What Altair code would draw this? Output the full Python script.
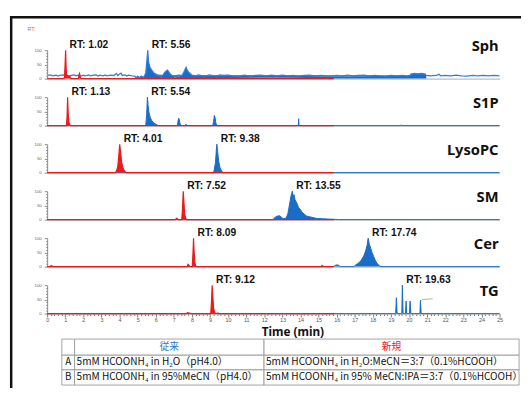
import altair as alt
import pandas as pd

# ---------------- data ----------------
COMPOUNDS = ["Sph", "S1P", "LysoPC", "SM", "Cer", "TG"]
RT_RED = [1.02, 1.13, 4.01, 7.52, 8.09, 9.12]
RT_BLUE = [5.56, 5.54, 9.38, 13.55, 17.74, 19.63]

# (time [min], relative intensity [%])
SPH_RED = [(0, 0), (0.93, 0), (0.96, 8), (0.99, 50), (1.02, 100), (1.05, 35), (1.08, 10), (1.2, 8),
           (1.28, 6), (1.31, 0), (1.72, 0), (1.76, 12), (1.79, 18), (1.83, 6), (1.87, 0), (15.85, 0)]
SPH_BLUE = [(0.05, 11), (0.2, 13), (0.3, 10), (0.5, 12), (0.6, 9), (0.7, 11), (0.9, 13), (1.1, 12),
            (1.2, 9), (1.3, 11), (1.5, 13), (1.6, 10), (1.7, 12), (1.9, 9), (2.0, 12), (2.1, 10),
            (2.3, 13), (2.4, 10), (2.5, 11), (2.7, 13), (2.8, 9), (2.9, 12), (3.1, 10), (3.2, 13),
            (3.3, 10), (3.5, 12), (3.7, 11), (3.82, 18), (3.9, 11), (4.0, 16), (4.08, 19), (4.15, 11),
            (4.3, 13), (4.4, 9), (4.5, 12), (4.7, 10), (4.85, 9), (4.9, 3), (5.0, 8), (5.1, 4), (5.2, 9),
            (5.3, 5), (5.38, 10), (5.45, 20), (5.52, 70), (5.56, 100), (5.6, 60), (5.65, 45), (5.72, 35),
            (5.8, 28), (5.9, 20), (6.0, 16), (6.1, 13), (6.25, 11), (6.4, 12), (6.5, 22), (6.58, 27),
            (6.65, 30), (6.72, 24), (6.8, 16), (6.9, 11), (7.05, 10), (7.25, 12), (7.45, 11), (7.55, 22),
            (7.62, 32), (7.68, 40), (7.74, 30), (7.8, 24), (7.9, 18), (8.0, 12), (8.2, 10), (8.35, 13),
            (8.5, 11), (8.8, 10), (8.95, 13), (9.1, 11), (9.4, 10), (9.55, 13), (9.7, 11), (10.0, 12),
            (10.3, 10), (10.6, 9), (10.9, 12), (11.2, 9), (11.5, 11), (11.8, 12), (12.1, 10), (12.4, 12),
            (12.7, 10), (13.0, 12), (13.3, 10), (13.6, 11), (13.9, 9), (14.2, 11), (14.5, 12), (14.8, 10),
            (15.1, 11), (15.4, 10), (15.7, 9), (16.0, 11), (16.3, 10), (16.6, 12), (16.9, 10), (17.2, 11),
            (17.5, 12), (17.8, 10), (18.1, 11), (18.4, 10), (18.7, 9), (19.0, 11), (19.3, 10), (19.6, 11),
            (19.9, 10), (20.05, 11), (20.1, 16), (20.3, 18), (20.5, 17), (20.7, 18), (20.9, 16),
            (20.95, 11), (21.2, 10), (21.5, 11), (21.65, 15), (21.75, 10), (22.0, 11), (22.3, 10),
            (22.6, 12), (22.9, 10), (23.2, 9), (23.5, 11), (23.8, 10), (24.1, 11), (24.4, 10), (24.7, 11),
            (25.0, 10)]
SPH_BLUE_PEAKS = [(4.85, 5.35), (5.38, 6.25), (6.4, 6.9), (7.45, 8.0), (20.05, 20.95)]

S1P_RED = [(0, 0), (1.06, 0), (1.1, 30), (1.13, 100), (1.16, 45), (1.2, 12), (1.25, 3), (1.3, 0), (15.85, 0)]
S1P_BLUE = [(0, 0), (5.45, 0), (5.5, 40), (5.54, 100), (5.58, 70), (5.63, 45), (5.7, 28), (5.78, 18),
            (5.88, 10), (6.0, 5), (6.15, 0), (7.2, 0), (7.24, 20), (7.27, 26), (7.3, 22), (7.34, 8),
            (7.38, 0), (7.64, 0), (7.67, 5), (7.7, 0), (9.15, 0), (9.2, 15), (9.24, 36), (9.28, 28),
            (9.33, 8), (9.4, 0), (13.88, 0), (13.9, 24), (13.92, 0), (19.55, 0), (19.57, 3), (19.6, 0), (25, 0)]

LPC_RED = [(0, 0), (3.75, 0), (3.82, 4), (3.9, 20), (3.96, 60), (4.01, 100), (4.06, 70), (4.12, 35),
           (4.2, 14), (4.28, 5), (4.36, 0), (15.85, 0)]
LPC_BLUE = [(0, 0), (9.15, 0), (9.22, 5), (9.3, 35), (9.35, 80), (9.38, 100), (9.42, 75), (9.48, 40),
            (9.55, 18), (9.63, 7), (9.72, 0), (25, 0)]

SM_RED = [(0, 0), (7.1, 0), (7.14, 5), (7.2, 3), (7.25, 0), (7.44, 0), (7.48, 40), (7.52, 100),
          (7.56, 60), (7.6, 20), (7.65, 5), (7.7, 0), (15.85, 0)]
SM_BLUE = [(0, 0), (12.5, 0), (12.55, 6), (12.7, 12), (12.85, 14), (12.95, 8), (13.05, 3), (13.2, 5),
           (13.3, 20), (13.4, 55), (13.48, 85), (13.55, 100), (13.6, 80), (13.64, 88), (13.7, 70),
           (13.8, 58), (13.9, 42), (14.0, 35), (14.1, 25), (14.2, 20), (14.35, 12), (14.5, 10), (14.7, 7),
           (14.9, 4), (15.2, 3), (15.5, 2), (15.9, 1), (16.1, 0), (25, 0)]

CER_RED = [(0, 0), (7.74, 0), (7.78, 8), (7.84, 4), (7.9, 0), (8.02, 0), (8.06, 50), (8.09, 100),
           (8.12, 55), (8.16, 15), (8.22, 0), (15.85, 0)]
CER_BLUE = [(0, 0), (0.15, 0), (0.22, 5), (0.3, 2), (0.38, 0), (15.1, 0), (15.2, 5), (15.3, 0),
            (15.85, 0), (15.9, 4), (16.0, 6), (16.1, 5), (16.2, 0), (16.95, 0), (17.05, 6), (17.2, 12),
            (17.35, 22), (17.5, 38), (17.6, 55), (17.68, 75), (17.74, 100), (17.8, 80), (17.88, 65),
            (17.95, 50), (18.05, 35), (18.15, 20), (18.25, 10), (18.35, 4), (18.45, 0), (25, 0)]

TG_RED = [(0, 0), (7.7, 0), (7.75, 3), (7.85, 2), (7.95, 0), (9.04, 0), (9.08, 40), (9.12, 100),
          (9.16, 55), (9.2, 18), (9.25, 5), (9.3, 0), (9.45, 2), (9.5, 0), (15.85, 0)]
TG_BLUE = [(0, 0), (19.26, 0), (19.3, 56), (19.34, 0), (19.6, 0), (19.63, 100), (19.67, 0), (19.8, 0),
           (19.84, 44), (19.87, 0), (20.02, 0), (20.06, 44), (20.1, 0), (20.6, 0), (20.63, 47),
           (20.67, 0), (25, 0)]
TG_GREEN = [(20.68, 47), (20.75, 50), (21.3, 52)]

RED_TRACES = [SPH_RED, S1P_RED, LPC_RED, SM_RED, CER_RED, TG_RED]
BLUE_TRACES = [SPH_BLUE, S1P_BLUE, LPC_BLUE, SM_BLUE, CER_BLUE, TG_BLUE]

TABLE_KEYS = ["", "A", "B"]
TABLE_OLD = ["従来", "5mM HCOONH₄ in H₂O（pH4.0）", "5mM HCOONH₄ in 95%MeCN（pH4.0）"]
TABLE_NEW = ["新規", "5mM HCOONH₄ in H₂O:MeCN＝3:7（0.1%HCOOH）",
             "5mM HCOONH₄ in 95% MeCN:IPA＝3:7（0.1%HCOOH）"]

# ---------------- style / layout ----------------
RED = "#ee1a1a"
BLUE = "#1a6cc6"
BLUE_NOISE = "#2f80d8"
GREEN = "#8cc98c"
W, H = 462, 29
FULL = [(0, 25)]

xs = alt.Scale(domain=[0, 25], nice=False, zero=False)
ys = alt.Scale(domain=[0, 100], nice=False)

TIME_TICKS = [round(0.2 * k, 1) for k in range(126)]


def trace_df(points, windows):
    rows = []
    for t, v in points:
        seg = 0
        for k, (a, b) in enumerate(windows):
            if a <= t <= b:
                seg = k + 1
                break
        rows.append({"t": t, "v": v, "seg": seg})
    return pd.DataFrame(rows)


y_axis = alt.Axis(
    values=list(range(0, 101, 10)),
    labelExpr="datum.value % 50 == 0 ? datum.label : ''",
    tickSize={"condition": {"test": "datum.value % 50 == 0", "value": 3}, "value": 1.5},
    labelFontSize=4.5, labelColor="#666", labelFont="Liberation Sans", labelPadding=3,
    labelOverlap=False, domainColor="#888", tickColor="#888", title=None, grid=False,
)

x_axis_plain = alt.Axis(labels=False, ticks=False, domain=True, domainColor="#aaa",
                        title=None, grid=False)
x_axis_bottom = alt.Axis(
    values=TIME_TICKS,
    labelExpr="abs(datum.value - round(datum.value)) < 0.01 ? '' + round(datum.value) : ''",
    tickSize={"condition": {"test": "abs(datum.value - round(datum.value)) < 0.01", "value": 3.5},
              "value": 2},
    tickColor="#777", domainColor="#aaa", labelFontSize=5.5, labelColor="#555",
    labelFont="Liberation Sans", labelPadding=0.5, labelOverlap=False, labelFlush=False,
    title="Time (min)", titleFont="Noto Sans", titleFontSize=12, titleFontWeight="bold",
    titleColor="#111", titleX=250.5, titleY=18, titleBaseline="middle", titleAlign="center",
    grid=False,
)

one = pd.DataFrame({"a": [0]})


def make_panel(i):
    last = i == len(COMPOUNDS) - 1
    xax = x_axis_bottom if last else x_axis_plain

    def X(f):
        return alt.X(f, scale=xs, axis=xax)

    def Y(f):
        return alt.Y(f, scale=ys, axis=y_axis)

    red = trace_df(RED_TRACES[i], FULL)
    blue = trace_df(BLUE_TRACES[i], SPH_BLUE_PEAKS if i == 0 else FULL)

    layers = [
        alt.Chart(blue).transform_filter("datum.seg > 0").mark_area(color=BLUE, opacity=1)
        .encode(x=X("t:Q"), y=Y("v:Q"), detail="seg:N"),
        alt.Chart(blue).mark_line(color=BLUE_NOISE if i == 0 else BLUE,
                                  strokeWidth=1.3 if i == 0 else 1)
        .encode(x=X("t:Q"), y=Y("v:Q")),
        alt.Chart(red).transform_filter("datum.seg > 0").mark_area(color=RED, opacity=1)
        .encode(x=X("t:Q"), y=Y("v:Q"), detail="seg:N"),
        alt.Chart(red).mark_line(color=RED, strokeWidth=1.2).encode(x=X("t:Q"), y=Y("v:Q")),
    ]
    if last:
        g = pd.DataFrame(TG_GREEN, columns=["t", "v"])
        layers.append(alt.Chart(g).mark_line(color=GREEN, strokeWidth=1)
                      .encode(x=X("t:Q"), y=Y("v:Q")))

    lab = pd.DataFrame({"rt": [RT_RED[i], RT_BLUE[i]]})
    lab["label"] = ["RT: %.2f" % v for v in lab["rt"]]
    layers.append(
        alt.Chart(lab).mark_text(align="left", baseline="middle", dx=4, dy=-5,
                                 font="Liberation Sans", fontWeight="bold", fontSize=10.5,
                                 color="#111")
        .encode(x=X("rt:Q"), y=alt.YDatum(100, scale=ys, axis=y_axis), text="label:N")
    )
    name = pd.DataFrame({"name": [COMPOUNDS[i]]})
    layers.append(
        alt.Chart(name).mark_text(align="right", baseline="middle", font="Noto Sans",
                                  fontWeight="bold", fontSize=15, color="#111",
                                  dy=-4.5 if i == 0 else 6)
        .encode(x=alt.value(W - 1), y=alt.value(0), text="name:N")
    )
    if i == 0:
        layers.append(alt.Chart(one).mark_rule(color="#111", strokeWidth=2.5)
                      .encode(x=alt.value(-36.75), y=alt.value(-35), y2=alt.value(345)))
        layers.append(alt.Chart(one).mark_rule(color="#111", strokeWidth=2.5)
                      .encode(x=alt.value(-38), x2=alt.value(484), y=alt.value(-33.75)))
        layers.append(alt.Chart(pd.DataFrame({"s": ["RT:"]}))
                      .mark_text(align="left", baseline="middle", font="Liberation Sans",
                                 fontSize=5.5, color="#888")
                      .encode(x=alt.value(-20), y=alt.value(-21.5), text="s:N"))
    return alt.layer(*layers).properties(width=W, height=H)


# ---------------- table ----------------
COL_EDGES = [15, 28, 221.5, 482]
ROW_EDGES = [7, 23.5, 38.5, 54]
TW, TH = 484, 55

cells = []
texts_c = []
texts_l = []
for r in range(3):
    row_vals = [TABLE_KEYS[r], TABLE_OLD[r], TABLE_NEW[r]]
    for c in range(3):
        cells.append({"x": COL_EDGES[c], "x2": COL_EDGES[c + 1],
                      "y": ROW_EDGES[r], "y2": ROW_EDGES[r + 1]})
        ym = (ROW_EDGES[r] + ROW_EDGES[r + 1]) / 2
        txt = row_vals[c]
        if not txt:
            continue
        if c == 0 or r == 0:
            col = "#111"
            if r == 0 and c == 1:
                col = "#2f75c5"
            if r == 0 and c == 2:
                col = "#e42020"
            texts_c.append({"x": (COL_EDGES[c] + COL_EDGES[c + 1]) / 2, "y": ym, "s": txt,
                            "col": col})
        else:
            texts_l.append({"x": COL_EDGES[c] + 2, "y": ym, "s": txt})

txs = alt.Scale(domain=[0, TW], nice=False, zero=False)
tys = alt.Scale(domain=[0, TH], nice=False, zero=False, reverse=True)

table = alt.layer(
    alt.Chart(pd.DataFrame(cells)).mark_rect(fill="white", stroke="#999", strokeWidth=0.9)
    .encode(x=alt.X("x:Q", scale=txs, axis=None), x2="x2:Q",
            y=alt.Y("y:Q", scale=tys, axis=None), y2="y2:Q"),
    alt.Chart(pd.DataFrame(texts_c)).mark_text(align="center", baseline="middle",
                                               font="Noto Sans CJK JP", fontSize=10)
    .encode(x=alt.X("x:Q", scale=txs, axis=None), y=alt.Y("y:Q", scale=tys, axis=None),
            text="s:N", color=alt.Color("col:N", scale=None)),
    alt.Chart(pd.DataFrame(texts_l)).mark_text(align="left", baseline="middle",
                                               font="Noto Sans CJK JP", fontSize=10.3, color="#111")
    .encode(x=alt.X("x:Q", scale=txs, axis=None), y=alt.Y("y:Q", scale=tys, axis=None),
            text="s:N"),
).properties(width=TW, height=TH)

chart = alt.vconcat(*[make_panel(i) for i in range(len(COMPOUNDS))], table,
                    spacing=19, bounds="flush").properties(
    padding={"left": 0, "top": 2, "right": 0, "bottom": 0}
).configure_view(stroke="transparent").configure_axis(grid=False)

chart.save("out.html", embed_options={"renderer": "svg", "actions": False})
